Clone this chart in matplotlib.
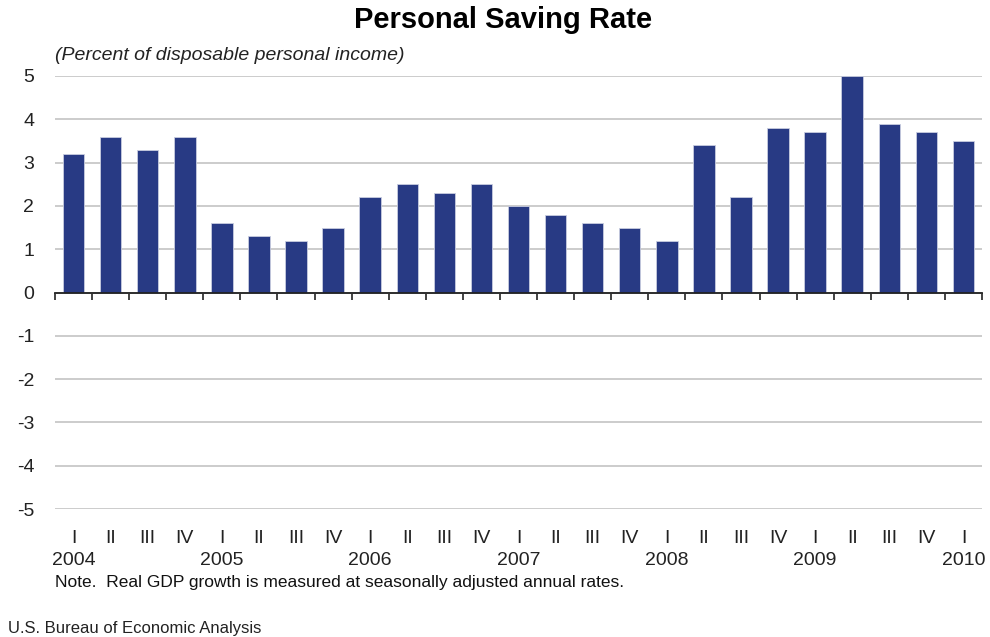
import matplotlib

matplotlib.use("Agg")

import matplotlib.pyplot as plt
from matplotlib.transforms import blended_transform_factory

quarters = ["I", "II", "III", "IV"] * 6 + ["I"]
years = ["2004", "2005", "2006", "2007", "2008", "2009", "2010"]
saving_rate = [
    3.2, 3.6, 3.3, 3.6,
    1.6, 1.3, 1.2, 1.5,
    2.2, 2.5, 2.3, 2.5,
    2.0, 1.8, 1.6, 1.5,
    1.2, 3.4, 2.2, 3.8,
    3.7, 5.0, 3.9, 3.7,
    3.5,
]
y_ticks = [5, 4, 3, 2, 1, 0, -1, -2, -3, -4, -5]

plt.rcParams["font.family"] = ["Liberation Sans", "DejaVu Sans"]

fig = plt.figure(figsize=(9.9, 6.37), dpi=100)
ax = fig.add_axes([55 / 990, 1 - 509 / 637, 927 / 990, 433 / 637])

x = list(range(len(saving_rate)))
ax.bar(x, saving_rate, width=0.58, color="#283a84", edgecolor="#c8cde0",
       linewidth=0.6, zorder=3)

ax.set_xlim(-0.5, len(saving_rate) - 0.5)
ax.set_ylim(-5, 5)
ax.set_yticks(y_ticks)
ax.set_yticklabels([str(v) for v in y_ticks], fontsize=14, color="#222222")
ax.tick_params(axis="y", length=0, pad=15)
ax.grid(axis="y", color="#c4c4c4", linewidth=1.2, zorder=0)

for name in ["top", "right", "left"]:
    ax.spines[name].set_visible(False)
ax.spines["bottom"].set_position(("data", 0))
ax.spines["bottom"].set_color("#222222")
ax.spines["bottom"].set_linewidth(1.3)
ax.spines["bottom"].set_zorder(4)

ax.set_xticks([i - 0.5 for i in range(len(saving_rate) + 1)])
ax.set_xticklabels([])
ax.tick_params(axis="x", direction="out", length=5, width=1.2, color="#222222")

trans = blended_transform_factory(ax.transData, ax.transAxes)
for i, q in enumerate(quarters):
    ax.text(i, -0.067, q, transform=trans, ha="center", va="center",
            fontsize=14, color="#222222")
for k, yr in enumerate(years):
    ax.text(k * 4, -0.12, yr, transform=trans, ha="center", va="center",
            fontsize=14, color="#222222")

fig.text(0.508, 0.968, "Personal Saving Rate", ha="center", va="center",
         fontsize=21, fontweight="bold")
fig.text(55 / 990, 1 - 55 / 637, "(Percent of disposable personal income)",
         ha="left", va="center", fontsize=14, style="italic", color="#222222")
fig.text(55 / 990, 1 - 582 / 637,
         "Note.  Real GDP growth is measured at seasonally adjusted annual rates.",
         ha="left", va="center", fontsize=12.5, color="#111111")
fig.text(8 / 990, 1 - 628 / 637, "U.S. Bureau of Economic Analysis",
         ha="left", va="center", fontsize=12, color="#222222")

fig.savefig("out.png", dpi=100)
plt.close(fig)
